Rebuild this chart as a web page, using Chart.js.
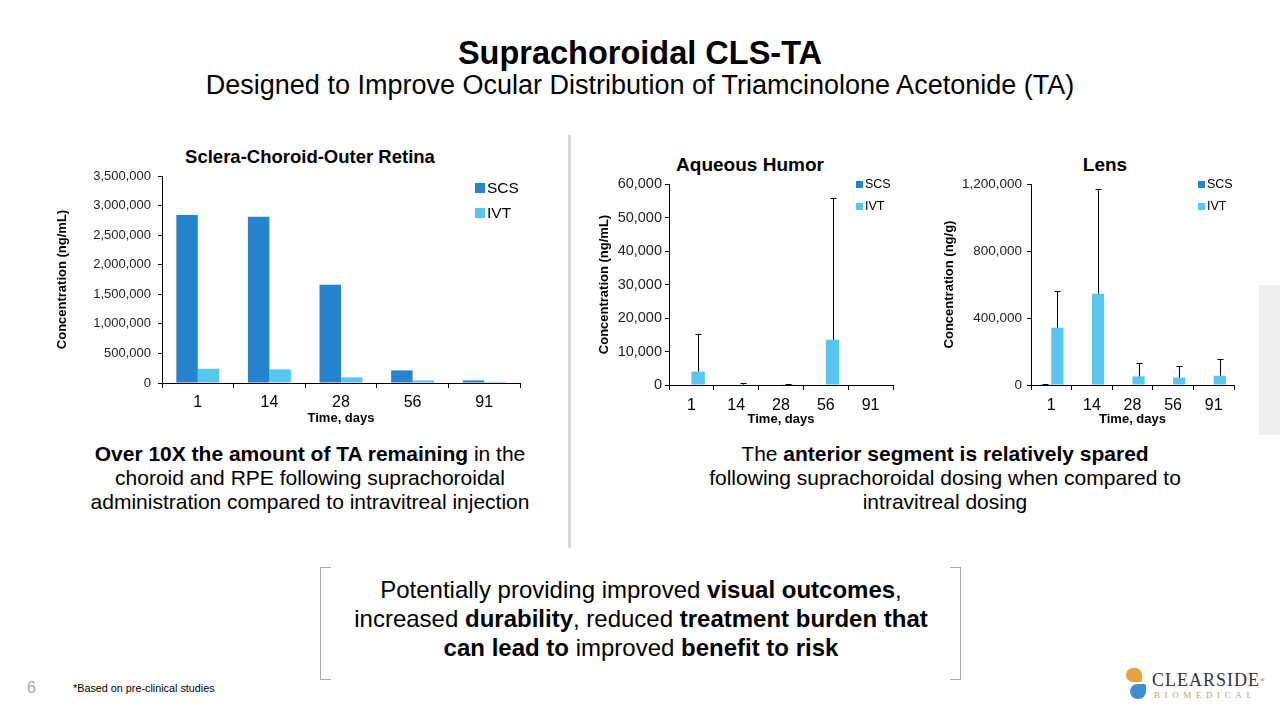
<!DOCTYPE html>
<html>
<head>
<meta charset="utf-8">
<script src="https://cdn.jsdelivr.net/npm/chart.js@4.4.0/dist/chart.umd.min.js"></script>
<style>
  body { margin: 0; width: 1280px; height: 720px; position: relative; overflow: hidden; background: #fff;
         font-family: "Liberation Sans", Arial, sans-serif; color: #000; }
  .abs { position: absolute; white-space: nowrap; }
  canvas { position: absolute; }
  .ctitle { font-weight: bold; text-align: center; }
  .sw { position: absolute; }
</style>
</head>
<body>

<div class="abs" style="left:0;width:1280px;top:35px;font-size:32.5px;line-height:36px;font-weight:bold;text-align:center;">Suprachoroidal CLS-TA</div>
<div class="abs" style="left:0;width:1280px;top:70px;font-size:27px;line-height:31px;text-align:center;">Designed to Improve Ocular Distribution of Triamcinolone Acetonide (TA)</div>

<div class="abs" style="left:568px;top:135px;width:3px;height:413px;background:#d9d9d9;"></div>

<!-- chart titles -->
<div class="abs ctitle" style="left:160px;width:300px;top:146px;font-size:18.5px;line-height:22px;">Sclera-Choroid-Outer Retina</div>
<div class="abs ctitle" style="left:650px;width:200px;top:154px;font-size:19px;line-height:22px;">Aqueous Humor</div>
<div class="abs ctitle" style="left:1055px;width:100px;top:154px;font-size:19px;line-height:22px;">Lens</div>

<canvas id="scrChart" width="480" height="270" style="left:50px;top:160px;"></canvas>
<canvas id="ahChart" width="310" height="262" style="left:590px;top:170px;"></canvas>
<canvas id="lensChart" width="305" height="262" style="left:935px;top:170px;"></canvas>

<!-- legends -->
<div id="leg1"></div>
<div id="leg2"></div>
<div id="leg3"></div>

<div class="abs" style="left:60px;width:500px;top:442px;font-size:21px;line-height:24px;text-align:center;">
  <b>Over 10X the amount of TA remaining</b> in the<br>choroid and RPE following suprachoroidal<br>administration compared to intravitreal injection
</div>
<div class="abs" style="left:695px;width:500px;top:442px;font-size:21px;line-height:24px;text-align:center;">
  The <b>anterior segment is relatively spared</b><br>following suprachoroidal dosing when compared to<br>intravitreal dosing
</div>

<div class="abs" style="left:320px;top:567px;width:10px;height:111px;border:1.5px solid #aaa;border-right:none;"></div>
<div class="abs" style="left:950px;top:567px;width:10px;height:111px;border:1.5px solid #aaa;border-left:none;"></div>
<div class="abs" style="left:321px;width:640px;top:575px;font-size:24px;line-height:29px;text-align:center;">
  Potentially providing improved <b>visual outcomes</b>,<br>increased <b>durability</b>, reduced <b>treatment burden that</b><br><b>can lead to</b> improved <b>benefit to risk</b>
</div>

<div class="abs" style="left:1259px;top:285px;width:21px;height:150px;background:#f0f0f0;"></div>

<div class="abs" style="left:27px;top:679px;font-size:16px;line-height:18px;color:#a8a8a8;">6</div>
<div class="abs" style="left:73px;top:682px;font-size:10.8px;line-height:13px;">*Based on pre-clinical studies</div>

<!-- logo -->
<div class="abs" style="left:1126px;top:668px;width:16px;height:14px;border-radius:8px 8px 2px 8px;background:#e6a23c;"></div>
<div class="abs" style="left:1130px;top:684px;width:16px;height:15px;border-radius:8px 2px 8px 8px;background:#3d8fd1;"></div>
<div class="abs" style="left:1152px;top:670px;font-family:'Liberation Serif',serif;font-size:18px;line-height:20px;letter-spacing:1px;color:#333;">CLEARSIDE<span style="font-size:6px;vertical-align:top;">®</span></div>
<div class="abs" style="left:1154px;top:690px;font-family:'Liberation Serif',serif;font-size:9px;line-height:11px;letter-spacing:4.6px;color:#c6a462;">BIOMEDICAL</div>

<script>
const SCS_COLOR = '#2584CB';
const IVT_COLOR = '#58C6EE';

const days = ['1', '14', '28', '56', '91'];

// Sclera-Choroid-Outer Retina (ng/mL)
const scrSCS = [2840000, 2810000, 1660000, 213000, 44000];
const scrIVT = [241000, 230000, 95000, 44000, 20000];

// Aqueous Humor (ng/mL)
const ahSCS = [0, 0, 0, 0, 0];
const ahSCSErr = [0, 0, 0, 0, 0];
const ahIVT = [4000, 100, 50, 13500, 0];
const ahIVTErr = [11300, 500, 250, 42300, 0];

// Lens (ng/g)
const lensSCS = [2000, 0, 0, 0, 0];
const lensSCSErr = [4000, 0, 0, 0, 0];
const lensIVT = [342000, 545000, 51000, 44000, 55000];
const lensIVTErr = [217000, 625000, 80000, 69000, 100000];

// simple upper error bars, drawn through the y scale
const errorBars = {
    id: 'errorBars',
    afterDatasetsDraw(chart) {
        const ctx = chart.ctx;
        const y = chart.scales.y;
        ctx.save();
        ctx.strokeStyle = '#000';
        ctx.lineWidth = 1;
        chart.data.datasets.forEach((ds, di) => {
            if (!ds.err) return;
            const meta = chart.getDatasetMeta(di);
            meta.data.forEach((bar, i) => {
                const e = ds.err[i];
                if (!e) return;
                const top = y.getPixelForValue(ds.data[i] + e);
                const x = Math.round(bar.x) + 0.5;
                ctx.beginPath();
                ctx.moveTo(x, bar.y);
                ctx.lineTo(x, top);
                ctx.moveTo(x - 3, Math.round(top) + 0.5);
                ctx.lineTo(x + 3, Math.round(top) + 0.5);
                ctx.stroke();
            });
        });
        ctx.restore();
    }
};

function buildChart(id, o) {
    return new Chart(document.getElementById(id), {
        type: 'bar',
        data: {
            labels: days,
            datasets: [
                { label: 'SCS', data: o.scs, err: o.scsErr, backgroundColor: SCS_COLOR },
                { label: 'IVT', data: o.ivt, err: o.ivtErr, backgroundColor: IVT_COLOR }
            ]
        },
        options: {
            responsive: false,
            animation: false,
            layout: { padding: { top: o.padTop, right: o.padRight, left: 0, bottom: 0 } },
            datasets: { bar: { categoryPercentage: 0.6, barPercentage: 1 } },
            plugins: { legend: { display: false }, tooltip: { enabled: false } },
            scales: {
                x: {
                    grid: { drawOnChartArea: false, tickLength: 5, color: '#000' },
                    border: { color: '#000' },
                    ticks: { font: { family: 'Liberation Sans', size: 16 }, color: '#000', padding: o.xPad },
                    title: { display: true, text: 'Time, days', color: '#000',
                             font: { family: 'Liberation Sans', size: 13, weight: 'bold' },
                             padding: { top: 0, bottom: o.xTitlePad } },
                    afterFit(s) { s.height = o.xh; }
                },
                y: {
                    min: 0, max: o.max,
                    grid: { drawOnChartArea: false, tickLength: 4, color: '#000' },
                    border: { color: '#000' },
                    ticks: { stepSize: o.step, color: '#222', padding: o.yPad,
                             font: { family: 'Liberation Sans', size: o.ySize },
                             callback: v => v.toLocaleString('en-US') },
                    title: { display: true, text: o.yTitle, color: '#000',
                             font: { family: 'Liberation Sans', size: 13, weight: 'bold' },
                             padding: { top: o.yTitlePad, bottom: 0 } },
                    afterFit(s) { s.width = o.yw; }
                }
            }
        },
        plugins: [errorBars]
    });
}

buildChart('scrChart', {
    scs: scrSCS, ivt: scrIVT, max: 3500000, step: 500000, yTitle: 'Concentration (ng/mL)',
    padTop: 16, padRight: 10, yw: 112, xh: 47, xPad: 5, xTitlePad: 4, yPad: 7, ySize: 13, yTitlePad: 5
});
buildChart('ahChart', {
    scs: ahSCS, scsErr: ahSCSErr, ivt: ahIVT, ivtErr: ahIVTErr, max: 60000, step: 10000,
    yTitle: 'Concentration (ng/mL)',
    padTop: 14, padRight: 7, yw: 79, xh: 47, xPad: 6, xTitlePad: 5, yPad: 3, ySize: 14.5, yTitlePad: 7
});
buildChart('lensChart', {
    scs: lensSCS, scsErr: lensSCSErr, ivt: lensIVT, ivtErr: lensIVTErr, max: 1200000, step: 400000,
    yTitle: 'Concentration (ng/g)',
    padTop: 14, padRight: 6, yw: 96, xh: 47, xPad: 6, xTitlePad: 5, yPad: 5, ySize: 13.5, yTitlePad: 7
});

// HTML legends (the originals sit inside the plot area, top right)
function legend(elId, x, y0, gap, box, size) {
    const el = document.getElementById(elId);
    [['SCS', SCS_COLOR], ['IVT', IVT_COLOR]].forEach(([name, col], i) => {
        const cy = y0 + i * gap;
        el.innerHTML += `<div class="sw" style="left:${x}px;top:${cy - box / 2}px;width:${box}px;height:${box}px;background:${col};"></div>` +
            `<div class="abs" style="left:${x + box + 2}px;top:${cy - size * 0.6}px;font-size:${size}px;line-height:${size * 1.2}px;">${name}</div>`;
    });
}
legend('leg1', 475, 188, 25, 10, 15.5);
legend('leg2', 856, 184, 22, 7, 12.5);
legend('leg3', 1198, 184, 22, 7, 12.5);
</script>
</body>
</html>
